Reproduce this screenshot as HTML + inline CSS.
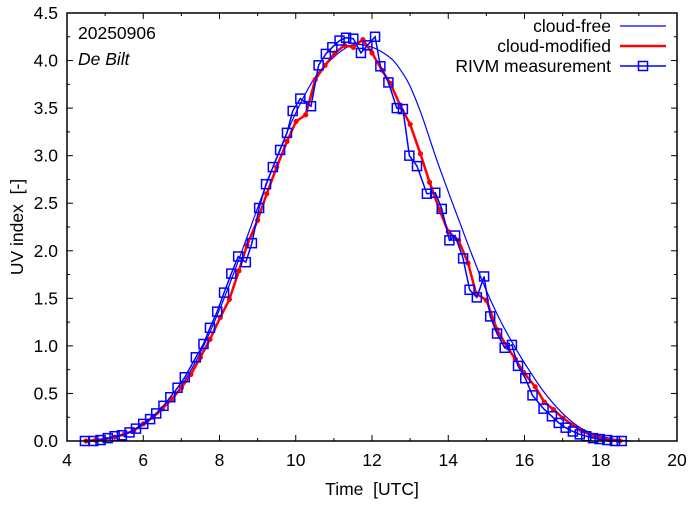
<!DOCTYPE html>
<html><head><meta charset="utf-8"><style>
html,body{margin:0;padding:0;background:#fff}
svg text{font-family:"Liberation Sans",sans-serif;fill:#000;white-space:pre}
</style></head><body>
<svg id="chart" width="694" height="501" viewBox="0 0 694 501" xmlns="http://www.w3.org/2000/svg">
<rect x="0" y="0" width="694" height="501" fill="#fff"/>
<g id="ticks"></g>
<g id="series"></g>
<rect x="67" y="13" width="610" height="428" fill="none" stroke="#000" stroke-width="1.5"/>
<text x="78" y="39" font-size="17.5">20250906</text>
<text x="78" y="65" font-size="17.5" font-style="italic">De Bilt</text>
<text x="372" y="495" font-size="17.5" text-anchor="middle" xml:space="preserve">Time  [UTC]</text>
<text x="0" y="0" font-size="17.5" text-anchor="middle" xml:space="preserve" transform="translate(23,227) rotate(-90)">UV index  [-]</text>
<g id="legend">
<g><text x="611" y="32" font-size="17.5" text-anchor="end">cloud-free</text><line x1="620" y1="26" x2="666" y2="26" stroke="#0000ff" stroke-width="1.2"/></g>
<g><text x="611" y="52" font-size="17.5" text-anchor="end">cloud-modified</text><line x1="620" y1="46" x2="666" y2="46" stroke="#ff0000" stroke-width="2.5"/></g>
<g><text x="611" y="72" font-size="17.5" text-anchor="end">RIVM measurement</text><line x1="620" y1="66" x2="666" y2="66" stroke="#0000ff" stroke-width="1.5"/><rect x="638.5" y="61.5" width="9" height="9" fill="none" stroke="#0000ff" stroke-width="1.5"/></g>
</g>
</svg>
<script>
const xTickLabels = ["4","6","8","10","12","14","16","18","20"];
const yTickLabels = ["0.0","0.5","1.0","1.5","2.0","2.5","3.0","3.5","4.0","4.5"];
const clearTimes = [4.5,5,5.5,6,6.5,7,7.5,8,8.5,9,9.5,10,10.5,10.9,11.3,11.6,12,12.3,12.56,12.8,13,13.3,13.66,14,14.3,14.58,15,15.4,15.76,16,16.5,17,17.5,18,18.5,18.8];
const clearValues = [0,0.02,0.07,0.17,0.33,0.58,0.93,1.38,1.9,2.45,2.98,3.45,3.82,4.0,4.13,4.17,4.14,4.08,4.0,3.87,3.73,3.43,3.0,2.62,2.3,2.0,1.58,1.24,0.98,0.82,0.52,0.29,0.13,0.05,0.01,0];
const modTimes = [4.5,4.75,5,5.25,5.5,5.75,6,6.25,6.5,6.75,7,7.25,7.5,7.75,8.02,8.26,8.51,8.72,9,9.24,9.5,9.77,10.01,10.26,10.51,10.77,11.03,11.28,11.51,11.76,12,12.26,12.48,12.74,13,13.27,13.51,13.77,14,14.27,14.52,14.73,15,15.28,15.54,15.76,15.98,16.28,16.52,16.76,17.01,17.25,17.5,17.75,18,18.25,18.5];
const modValues = [0,0.01,0.02,0.04,0.07,0.11,0.18,0.25,0.34,0.44,0.56,0.70,0.88,1.07,1.30,1.49,1.79,2.06,2.32,2.60,2.88,3.15,3.36,3.43,3.80,3.95,4.08,4.16,4.14,4.22,4.08,3.90,3.76,3.53,3.33,3.02,2.72,2.43,2.20,2.11,1.87,1.55,1.48,1.17,0.99,0.86,0.72,0.57,0.41,0.33,0.24,0.17,0.11,0.06,0.03,0.01,0];
const measTimes = [4.47,4.69,4.88,5.07,5.25,5.44,5.64,5.81,6.0,6.18,6.34,6.53,6.71,6.9,7.09,7.38,7.58,7.75,7.94,8.12,8.31,8.49,8.69,8.85,9.04,9.22,9.40,9.59,9.77,9.92,10.12,10.40,10.60,10.79,10.96,11.15,11.32,11.51,11.71,11.88,12.08,12.22,12.43,12.65,12.81,12.98,13.18,13.44,13.66,13.83,14.03,14.18,14.39,14.56,14.75,14.94,15.10,15.28,15.48,15.67,15.83,16.02,16.21,16.50,16.72,16.90,17.08,17.27,17.45,17.62,17.80,17.97,18.17,18.37,18.55];
const measValues = [0,0,0.01,0.03,0.05,0.06,0.09,0.13,0.18,0.23,0.29,0.37,0.46,0.56,0.67,0.88,1.02,1.19,1.36,1.56,1.76,1.94,1.88,2.08,2.45,2.70,2.88,3.06,3.24,3.47,3.60,3.52,3.95,4.07,4.14,4.21,4.24,4.23,4.08,4.16,4.25,3.94,3.77,3.50,3.49,3.00,2.89,2.60,2.61,2.44,2.11,2.16,1.92,1.59,1.51,1.73,1.31,1.13,0.98,1.01,0.79,0.66,0.48,0.34,0.26,0.19,0.14,0.10,0.07,0.05,0.03,0.02,0.01,0,0];

const NS="http://www.w3.org/2000/svg";
const X0=67,X1=677,Y0=441,Y1=13;
function xs(t){return X0+(t-4)/16*(X1-X0);}
function ys(v){return Y0-v/4.5*(Y0-Y1);}
function mk(tag,attrs,parent){const e=document.createElementNS(NS,tag);for(const k in attrs)e.setAttribute(k,attrs[k]);parent.appendChild(e);return e;}
const tg=document.getElementById('ticks');
xTickLabels.forEach(function(l){
  const v=parseFloat(l),x=xs(v);
  mk('line',{x1:x,y1:Y0,x2:x,y2:Y0-6,stroke:'#000'},tg);
  mk('line',{x1:x,y1:Y1,x2:x,y2:Y1+6,stroke:'#000'},tg);
  if(v<20){const xm=xs(v+1);mk('line',{x1:xm,y1:Y0,x2:xm,y2:Y0-3,stroke:'#000'},tg);mk('line',{x1:xm,y1:Y1,x2:xm,y2:Y1+3,stroke:'#000'},tg);}
  const t=mk('text',{x:x,y:Y0+25,'font-size':17.5,'text-anchor':'middle'},tg);t.textContent=l;
  
  
});
yTickLabels.forEach(function(l){
  const v=parseFloat(l),y=ys(v);
  mk('line',{x1:X0,y1:y,x2:X0+6,y2:y,stroke:'#000'},tg);
  mk('line',{x1:X1,y1:y,x2:X1-6,y2:y,stroke:'#000'},tg);
  if(v<4.5){const ym=ys(v+0.25);mk('line',{x1:X0,y1:ym,x2:X0+3,y2:ym,stroke:'#000'},tg);mk('line',{x1:X1,y1:ym,x2:X1-3,y2:ym,stroke:'#000'},tg);}
  const t=mk('text',{x:X0-9,y:y+6,'font-size':17.5,'text-anchor':'end'},tg);t.textContent=l;
  
  
});
const sg=document.getElementById('series');
function pts(ts,vs){return ts.map(function(t,i){return xs(t).toFixed(1)+','+ys(vs[i]).toFixed(1);}).join(' ');}
function smoothPath(ts,vs){
  const P=ts.map(function(t,i){return [xs(t),ys(vs[i])];});
  let d='M'+P[0][0].toFixed(1)+','+P[0][1].toFixed(1);
  for(let i=0;i<P.length-1;i++){
    const p0=P[Math.max(0,i-1)],p1=P[i],p2=P[i+1],p3=P[Math.min(P.length-1,i+2)];
    const c1=[p1[0]+(p2[0]-p0[0])/6,p1[1]+(p2[1]-p0[1])/6];
    const c2=[p2[0]-(p3[0]-p1[0])/6,p2[1]-(p3[1]-p1[1])/6];
    d+=' C'+c1[0].toFixed(1)+','+c1[1].toFixed(1)+' '+c2[0].toFixed(1)+','+c2[1].toFixed(1)+' '+p2[0].toFixed(1)+','+p2[1].toFixed(1);
  }
  return d;
}
const l1=mk('path',{d:smoothPath(clearTimes,clearValues),fill:'none',stroke:'#0000ff','stroke-width':1.2},sg);


const l2=mk('polyline',{points:pts(modTimes,modValues),fill:'none',stroke:'#ff0000','stroke-width':2.5},sg);


modTimes.forEach(function(t,i){
  const c=mk('circle',{cx:xs(t),cy:ys(modValues[i]),r:2.6,fill:'#ff0000'},sg);
  
  
});
const l3=mk('polyline',{points:pts(measTimes,measValues),fill:'none',stroke:'#0000ff','stroke-width':1.5},sg);


measTimes.forEach(function(t,i){
  const r=mk('rect',{x:xs(t)-4.5,y:ys(measValues[i])-4.5,width:9,height:9,fill:'none',stroke:'#0000ff','stroke-width':1.5},sg);
  
  
});
</script>
</body></html>
